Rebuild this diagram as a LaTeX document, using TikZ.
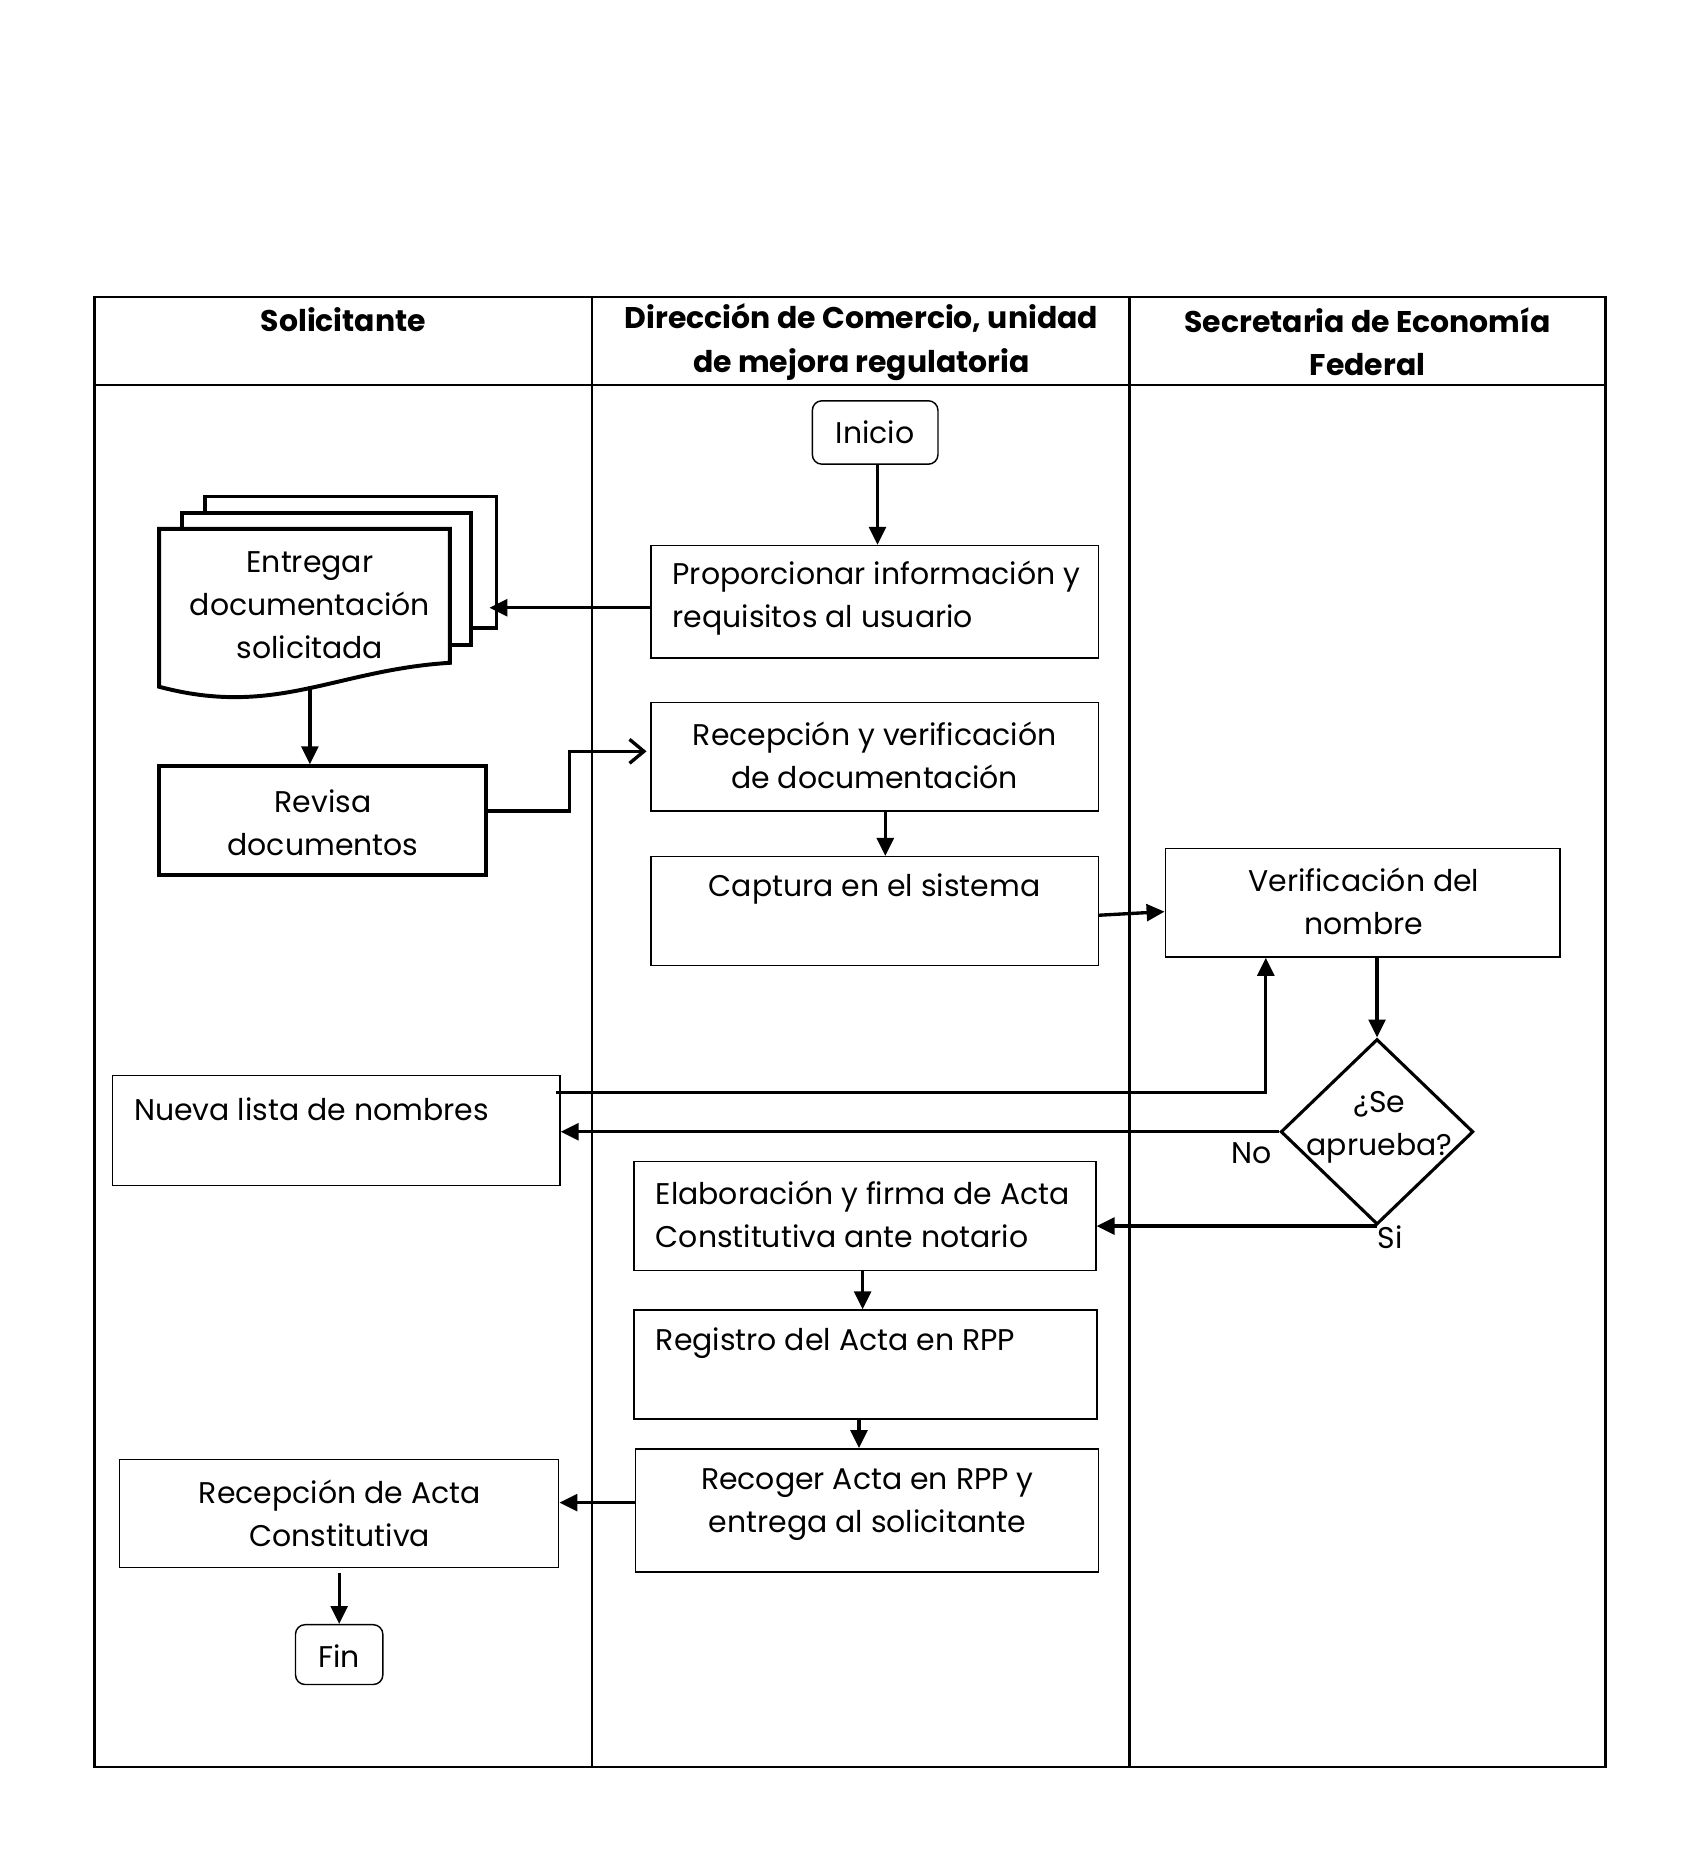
\documentclass[tikz,border=0pt]{standalone}
\usepackage{fontspec}
\setmainfont{Poppins}
\usetikzlibrary{shapes.geometric,arrows.meta,calc}
\tikzset{
  lane/.style={line width=2pt},
  box/.style={draw, line width=1.2pt, rectangle, inner sep=0pt, fill=white},
  rbox/.style={box, rounded corners=8pt},
  thickbox/.style={draw, line width=3.3pt, rectangle, inner sep=0pt},
  doc/.style={draw, line width=3.3pt, fill=white, line join=miter},
  txt/.style={font=\fontsize{25}{36}\selectfont, align=center, inner sep=0pt},
  txtl/.style={font=\fontsize{25}{36}\selectfont, align=left, inner sep=0pt, anchor=west},
  head/.style={font=\fontsize{25}{36}\selectfont\bfseries, align=center, inner sep=0pt},
  arr/.style={line width=2.8pt, -{Triangle[length=15pt,width=14pt]}},
  openarr/.style={line width=2.8pt, -{Straight Barb[length=12pt,width=20pt,line width=2.8pt]}},
}
\begin{document}
\begin{tikzpicture}[x=1pt,y=-1pt]
\useasboundingbox (0,0) rectangle (1421,1566.4);
% lanes
\draw[lane] (79,248) rectangle (1342,1477);
\draw[lane] (79,322) -- (1342,322);
\draw[lane] (495,248) -- (495,1477);
\draw[lane] (944,248) -- (944,1477);
\node[head] (h1) at (287,267) {Solicitante};
\node[head] (h2) at (720,286) {Dirección de Comercio, unidad\\de mejora regulatoria};
\node[head] (h3) at (1143,286) {Secretaria de Economía\\Federal};

% multi-document
\draw[doc] (171,415) rectangle (415,525);
\draw[doc] (152,429) rectangle (394,539);
\draw[doc] (133,442) -- (376,442) -- (376,554) .. controls (280,560) and (230,600) .. (133,574) -- cycle;
\node[txt] (docs) at (259,506) {Entregar\\documentación\\solicitada};
\coordinate (docin) at (409,508);
\coordinate (docout) at (259,573);

% nodes
\node[rbox, minimum width=105pt, minimum height=53pt] (inicio) at (731.5,361.5) {};
\node[txt] (inicioT) at (731.5,361) {Inicio};
\node[box, minimum width=374pt, minimum height=94pt] (prop) at (731,503) {};
\node[txtl] (propT) at (562,500) {Proporcionar información y\\requisitos al usuario};
\node[thickbox, minimum width=273pt, minimum height=91pt] (revisa) at (269.5,686) {};
\node[txt] (revisaT) at (270,688) {Revisa\\documentos};
\node[box, minimum width=374pt, minimum height=91pt] (recep) at (731,632.5) {};
\node[txt] (recepT) at (731,631) {Recepción y verificación\\de documentación};
\node[box, minimum width=374pt, minimum height=91pt] (capt) at (731,761.5) {};
\node[txt] (captT) at (731,743) {Captura en el sistema};
\node[box, minimum width=330pt, minimum height=91pt] (verif) at (1139,754.5) {};
\node[txt] (verifT) at (1140,753) {Verificación del\\nombre};
\node[draw, diamond, line width=2.6pt, minimum width=161pt, minimum height=155pt, inner sep=0pt, aspect=1] (dia) at (1151,946) {};
\node[txt] (diaT) at (1153,942) {¿Se\\aprueba?};
\node[box, minimum width=374pt, minimum height=92pt] (nueva) at (281,945) {};
\node[txtl] (nuevaT) at (112,927) {Nueva lista de nombres};
\node[box, minimum width=386pt, minimum height=91pt] (elab) at (723,1016.5) {};
\node[txtl] (elabT) at (548,1015) {Elaboración y firma de Acta\\Constitutiva ante notario};
\node[box, minimum width=387pt, minimum height=91pt] (regis) at (723.5,1140.5) {};
\node[txtl] (regisT) at (548,1123) {Registro del Acta en RPP};
\node[box, minimum width=387pt, minimum height=103pt] (recog) at (724.5,1262.5) {};
\node[txt] (recogT) at (725,1258) {Recoger Acta en RPP y\\entrega al solicitante};
\node[box, minimum width=367pt, minimum height=90pt] (racta) at (283.5,1265) {};
\node[txt] (ractaT) at (284,1265) {Recepción de Acta\\Constitutiva};
\node[rbox, minimum width=73pt, minimum height=50pt] (fin) at (283.5,1383) {};
\node[txt] (finT) at (283.5,1384) {Fin};
\node[txt] (no) at (1046,964) {No};
\node[txt] (si) at (1162,1034) {Si};

% connectors
\draw[arr] ([xshift=2pt]inicio.south) -- ([xshift=2pt]inicio.south |- prop.north);
\draw[arr] (prop.west |- docin) -- (docin);
\draw[arr] (docout) -- (docout |- revisa.north);
\draw[openarr] ([yshift=8pt]revisa.east) -| (476,628) -- ([yshift=4.5pt,xshift=-3pt]recep.west);
\draw[arr] ([xshift=9pt]recep.south) -- ([xshift=9pt]capt.north);
\draw[arr] ([yshift=-3.5pt]capt.east) -- ([yshift=-7.5pt]verif.west);
\draw[arr] (dia.north |- verif.south) -- (dia.north);
\draw[arr] ([yshift=32pt,xshift=-4pt]nueva.east) -| ([xshift=-81pt]verif.south);
\draw[arr] (dia.west) -- (dia.west -| nueva.east);
\draw[arr] (dia.south) -- (dia.south -| elab.east);
\draw[arr] ([xshift=-2pt]elab.south) -- ([xshift=-2.5pt]regis.north);
\draw[arr] ([xshift=-5.5pt]regis.south) -- ([xshift=-6.5pt]recog.north);
\draw[arr] ([yshift=6.5pt]recog.west) -- ([yshift=6.5pt]recog.west -| racta.east);
\draw[arr] ([yshift=-4pt]racta.south) -- (fin.north);
\end{tikzpicture}
\end{document}
